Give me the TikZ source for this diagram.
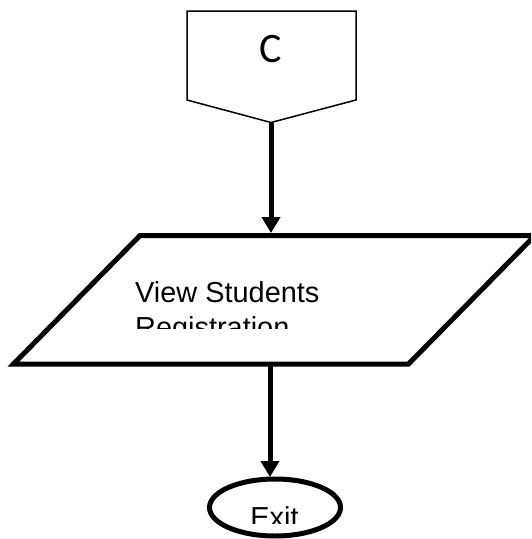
\documentclass[tikz,border=0pt]{standalone}
\usepackage{fontspec}
\setmainfont{Liberation Sans}
\newfontfamily\calib{Carlito}
\usetikzlibrary{arrows.meta,shapes.geometric}
\begin{document}
\begin{tikzpicture}[x=1pt,y=-1pt,
  thickline/.style={line width=5pt,miter limit=10},
  flow/.style={line width=5pt,-{Triangle[length=16pt,width=18pt]}},
  lbl/.style={font=\fontsize{28.9}{35}\selectfont,inner sep=0pt,anchor=base west}]
\useasboundingbox (0,0) rectangle (531,539);
\begin{scope}
\clip (0,0) rectangle (531,539);
% off-page connector
\draw[line width=1.5pt] (187,11) -- (356,11) -- (356,100) -- (271,122.5) -- (187,100) -- cycle;
\coordinate (cbot) at (271,122.5);
\node[font=\calib\fontsize{42}{42}\selectfont,inner sep=0pt,anchor=base] (ctext) at (271,62) {C};
% parallelogram
\draw[thickline] (140,235.5) -- (535,235.5) -- (408.5,364) -- (13.5,364) -- cycle;
\coordinate (ptop) at (271,233);
\coordinate (pbot) at (270,364);
\begin{scope}
\clip (0,0) rectangle (531,328);
\node[lbl] (v1) at (135,302) {View Students};
\node[lbl] (v2) at (135,337) {Registration};
\end{scope}
% exit ellipse
\node[ellipse,draw,line width=5pt,minimum width=131pt,minimum height=57pt,inner sep=0pt] (exit) at (275,507.5) {};
\coordinate (etop) at (270,477);
\begin{scope}
\clip (0,0) rectangle (531,523);
\node[font=\fontsize{28.9}{35}\selectfont,inner sep=0pt,anchor=base] (extext) at (274.5,527) {Exit};
\end{scope}
% connectors
\draw[flow] (cbot) -- (ptop);
\draw[flow] (pbot) -- (etop);
\end{scope}
\end{tikzpicture}
\end{document}
